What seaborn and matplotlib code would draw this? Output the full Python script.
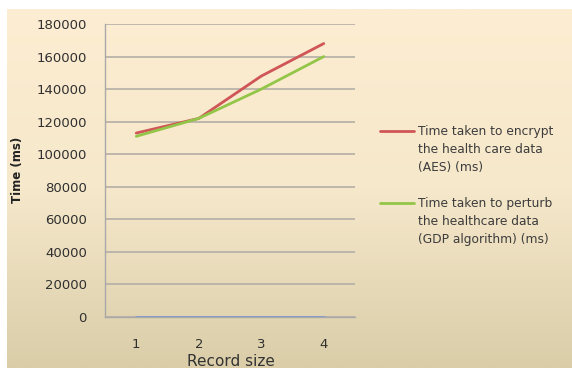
import numpy as np
import pandas as pd
import matplotlib
matplotlib.use("Agg")
import matplotlib.pyplot as plt
from matplotlib.colors import LinearSegmentedColormap
from matplotlib.lines import Line2D
import seaborn as sns

# Data
record_size = [1, 2, 3, 4]
encrypt_ms = [113000, 122000, 148000, 168000]
perturb_ms = [111000, 122000, 140000, 160000]
baseline_ms = [0, 0, 0, 0]
y_ticks = [0, 20000, 40000, 60000, 80000, 100000, 120000, 140000, 160000, 180000]

label_encrypt = "Time taken to encrypt\nthe health care data\n(AES) (ms)"
label_perturb = "Time taken to perturb\nthe healthcare data\n(GDP algorithm) (ms)"

sns.set_style("white")
plt.rcParams["font.family"] = ["DejaVu Sans"]

fig = plt.figure(figsize=(5.72, 3.68), dpi=100)
fig.patch.set_facecolor("white")

# Cream-to-tan gradient panel behind everything
bg = fig.add_axes([7 / 572, 0, 1 - 7 / 572, 1 - 9 / 368], zorder=0)
grad = LinearSegmentedColormap.from_list("bg", ["#fdedd2", "#f6e8cb", "#dacda8"])
bg.imshow(np.linspace(0, 1, 256).reshape(-1, 1), aspect="auto", cmap=grad,
          extent=[0, 1, 0, 1], origin="upper")
bg.set_axis_off()

ax = fig.add_axes([105 / 572, 1 - 317 / 368, 250 / 572, 293 / 368], zorder=1)
ax.patch.set_alpha(0)

df = pd.DataFrame({
    "size": record_size * 3,
    "time": encrypt_ms + perturb_ms + baseline_ms,
    "series": ["enc"] * 4 + ["per"] * 4 + ["base"] * 4,
})
palette = {"enc": "#cf5556", "per": "#93c648", "base": "#7f9ccb"}
sns.lineplot(data=df, x="size", y="time", hue="series", palette=palette,
             linewidth=2.0, legend=False, ax=ax, zorder=3)

ax.set_xlim(0.5, 4.5)
ax.set_ylim(0, 180000)
ax.set_yticks(y_ticks)
ax.set_yticklabels([str(v) for v in y_ticks])
ax.set_xticks(record_size)
ax.set_xticklabels([str(v) for v in record_size])
ax.tick_params(axis="both", length=0, labelsize=9.5, labelcolor="#303030")
ax.tick_params(axis="y", pad=13)
ax.tick_params(axis="x", pad=15)

ax.yaxis.grid(True, color="#b4aea6", linewidth=1.2)
ax.set_axisbelow(True)
for side in ["top", "right"]:
    ax.spines[side].set_visible(False)
ax.spines["left"].set_color("#a9a9a9")
ax.spines["bottom"].set_color("#a9a9a9")
ax.spines["left"].set_linewidth(1.0)
ax.spines["bottom"].set_linewidth(1.0)

ax.set_ylabel("")
ax.set_xlabel("")
fig.text(17 / 572, 1 - 170 / 368, "Time (ms)", rotation=90, ha="center", va="center",
         fontsize=8.5, fontweight="bold", color="#222222")
fig.text(231 / 572, 1 - 362 / 368, "Record size", ha="center", va="center",
         fontsize=11, color="#333333")

# Legend, handles aligned to the first text line
for y, col, lab in [(131, "#cf5556", label_encrypt), (203, "#93c648", label_perturb)]:
    fig.add_artist(Line2D([380 / 572, 414 / 572], [1 - y / 368, 1 - y / 368],
                          color=col, linewidth=2.0, transform=fig.transFigure))
    fig.text(418 / 572, 1 - (y - 6) / 368, lab, ha="left", va="top", fontsize=8.8,
             color="#3c3c3c", linespacing=1.5)

fig.savefig("out.png", dpi=100)
